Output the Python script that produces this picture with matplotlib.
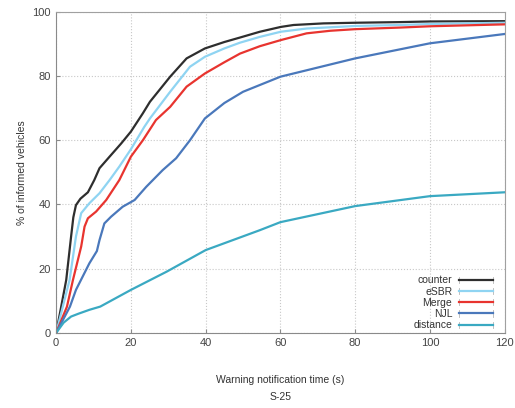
import matplotlib.pyplot as plt
from matplotlib.legend_handler import HandlerLine2D
from matplotlib.lines import Line2D

plt.rcParams['font.family'] = ['Liberation Sans', 'DejaVu Sans']

# values (time in s, % informed)
counter_t = [0, 1, 2.7, 4, 4.6, 5.3, 6.5, 8.5, 10.2, 11.6, 14.3, 17.4, 20, 23.2, 25.1,
             30.5, 34.9, 39.8, 45, 49.2, 54.5, 60.1, 63.5, 71.5, 80, 92, 100, 120]
counter_v = [0, 6, 16.5, 30, 36, 39.8, 41.8, 43.8, 47.6, 51.3, 54.9, 59, 62.7, 68.4, 72,
             79.8, 85.5, 88.6, 90.6, 92, 93.8, 95.3, 95.9, 96.4, 96.6, 96.8, 97, 97.1]

esbr_t = [0, 3.6, 5.3, 6.7, 8.9, 11.6, 14.3, 16.9, 20, 23.6, 25.1, 30.5, 35.8, 39.8,
          45, 49.2, 54.5, 60.1, 67, 80, 92, 100, 120]
esbr_v = [0, 16.5, 30, 37.3, 40.4, 43.5, 47.6, 51.8, 57.2, 64.2, 66.8, 75.1, 82.9, 86,
          88.6, 90.4, 92.2, 93.8, 94.8, 95.6, 95.9, 96.2, 96.6]

merge_t = [0, 2.9, 4.5, 6.7, 7.6, 8.5, 10.7, 13.4, 16.9, 20, 23.2, 26.7, 30.5, 34.9,
           39.8, 45, 49.2, 54.5, 60.1, 67, 73.3, 80, 92, 100, 120]
merge_v = [0, 8.2, 16.5, 26.9, 33.1, 35.7, 37.8, 41.4, 47.6, 54.9, 60, 66.3, 70.4, 76.7,
           80.8, 84.3, 87, 89.3, 91.2, 93.3, 94.1, 94.6, 95.1, 95.5, 96.1]

njl_t = [0, 3.7, 5.3, 8.9, 10.9, 11.6, 12.9, 14.7, 17.8, 21, 24.1, 28.5, 32.1, 35.8,
         39.8, 45, 50, 60, 80, 100, 120]
njl_v = [0, 8.2, 13.4, 21.7, 25.5, 28.9, 34.1, 36.2, 39.3, 41.4, 45.5, 50.7, 54.4, 60,
         66.8, 71.6, 75.1, 79.8, 85.5, 90.2, 93.1]

dist_t = [0, 2, 4, 6, 8.9, 11.8, 20, 29.6, 40, 54.5, 60, 80, 100, 120]
dist_v = [0, 3.2, 5.1, 6, 7.2, 8.2, 13.4, 19.1, 25.8, 32, 34.5, 39.5, 42.6, 43.8]

labels = ['counter', 'eSBR', 'Merge', 'NJL', 'distance']
colors = ['#2e2e2e', '#8fd4f2', '#e8342f', '#4a78bb', '#3aa9c2']
series = [(counter_t, counter_v), (esbr_t, esbr_v), (merge_t, merge_v),
          (njl_t, njl_v), (dist_t, dist_v)]


class CapHandler(HandlerLine2D):
    # legend line with little grey end caps, as in the original
    def create_artists(self, legend, orig_handle, xdescent, ydescent, width, height,
                       fontsize, trans):
        arts = super().create_artists(legend, orig_handle, xdescent, ydescent, width,
                                      height, fontsize, trans)
        yc = height / 2 - ydescent
        caps = [Line2D([x, x], [yc - 2.2, yc + 2.2], color='#b5b5b5', lw=0.6,
                       transform=trans) for x in (-xdescent, -xdescent + width)]
        return caps + arts


fig = plt.figure(figsize=(5.15, 4.08), dpi=100)
ax = fig.add_axes([0.109, 0.184, 0.871, 0.787])

for (t, v), lab, c in zip(series, labels, colors):
    ax.plot(t, v, color=c, lw=1.6, label=lab, solid_joinstyle='round')

ax.set_xlim(0, 120)
ax.set_ylim(0, 100)
ax.set_xticks(range(0, 121, 20))
ax.set_yticks(range(0, 101, 20))
ax.grid(True, color='#c8c8c8', linestyle=':', linewidth=0.8)
for s in ax.spines.values():
    s.set_color('#a0a0a0')
ax.spines['left'].set_color('#8a8a8a')
ax.spines['bottom'].set_color('#8a8a8a')
ax.tick_params(direction='in', length=3, color='#8a8a8a', labelsize=8,
               labelcolor='#444444', pad=4)

ax.set_xlabel('Warning notification time (s)', fontsize=7.5, color='#333333', labelpad=19)
ax.set_ylabel('% of informed vehicles', fontsize=7.5, color='#333333', labelpad=4)
fig.text(0.545, 0.026, 'S-25', fontsize=7.5, color='#333333', ha='center', va='center')

leg = ax.legend(loc='lower right', bbox_to_anchor=(0.983, -0.005), frameon=False,
                fontsize=7.5, markerfirst=False, handlelength=3.3, handletextpad=0.6,
                labelspacing=0.12, borderaxespad=0,
                handler_map={Line2D: CapHandler()})
for txt in leg.get_texts():
    txt.set_color('#333333')

fig.savefig('out.png', dpi=100)
